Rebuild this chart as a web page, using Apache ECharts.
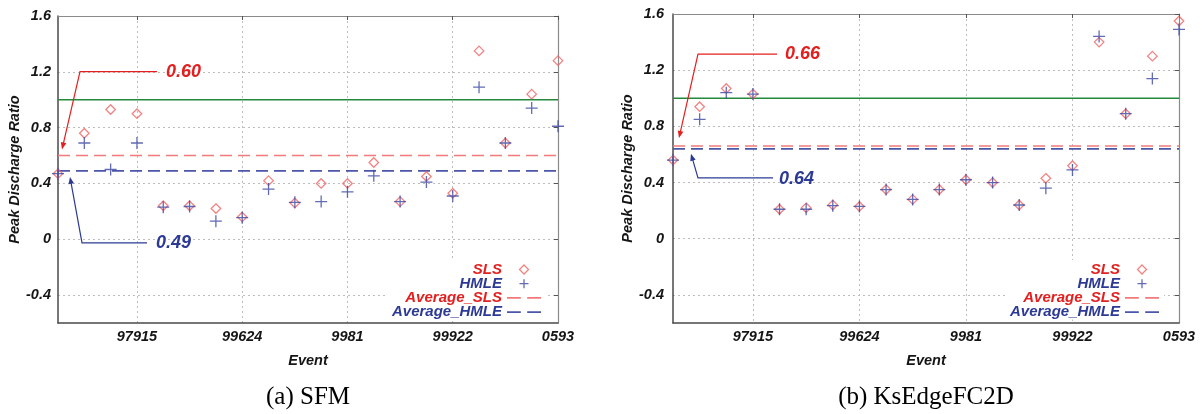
<!DOCTYPE html>
<html>
<head>
<meta charset="utf-8">
<script src="https://cdn.jsdelivr.net/npm/echarts@6/dist/echarts.min.js"></script>
<style>
  html, body { margin: 0; padding: 0; background: #fff; }
  #chart { width: 1202px; height: 414px; }
</style>
</head>
<body>
<div id="chart"></div>
<script>
// Event axis: 20 events, labelled every fourth one
const eventTicks = [3, 7, 11, 15, 19];
const eventLabels = ['97915', '99624', '9981', '99922', '0593'];
const ratioTicks = [-0.4, 0, 0.4, 0.8, 1.2, 1.6];

// (a) SFM – peak discharge ratios per event
const sfmSLS  = [0.47, 0.76, 0.93, 0.90, 0.24, 0.24, 0.22, 0.16, 0.42, 0.26, 0.40, 0.40, 0.55, 0.27, 0.45, 0.33, 1.35, 0.69, 1.04, 1.28];
const sfmHMLE = [0.47, 0.69, 0.50, 0.69, 0.23, 0.235, 0.13, 0.155, 0.36, 0.265, 0.27, 0.34, 0.455, 0.27, 0.41, 0.31, 1.09, 0.69, 0.94, 0.81];
const sfmAvgSLS = 0.60;
const sfmAvgHMLE = 0.49;

// (b) KsEdgeFC2D – peak discharge ratios per event
const ksSLS  = [0.56, 0.94, 1.07, 1.03, 0.21, 0.22, 0.24, 0.23, 0.35, 0.28, 0.35, 0.42, 0.40, 0.24, 0.43, 0.52, 1.40, 0.89, 1.30, 1.55];
const ksHMLE = [0.56, 0.85, 1.04, 1.03, 0.21, 0.21, 0.235, 0.23, 0.35, 0.28, 0.35, 0.42, 0.40, 0.24, 0.36, 0.49, 1.44, 0.89, 1.14, 1.49];
const ksAvgSLS = 0.66;
const ksAvgHMLE = 0.64;

// Perfect-match reference ratio
const refRatio = 1.0;

const RED_TEXT = '#e3201f';
const BLUE_TEXT = '#2c3a95';
const RED_MARK = '#f06464';
const BLUE_MARK = '#3b47a3';
const RED_AVG = '#f27a7a';
const BLUE_AVG = '#4b57a8';
const GREEN = '#24883a';
const FONT = '"Liberation Sans", Arial, sans-serif';

const DIAMOND = 'path://M5,0L10,5L5,10L0,5Z';
const PLUS = 'path://M5,0L5,10M0,5L10,5';
const DASHES = 'path://M0,0L13,0L13,1.6L0,1.6Z M19,0L32,0L32,1.6L19,1.6Z';

const panels = [
  {
    caption: '(a) SFM', sls: sfmSLS, hmle: sfmHMLE, avgSLS: sfmAvgSLS, avgHMLE: sfmAvgHMLE,
    grid: { left: 58, top: 16, width: 500, height: 307 },
    legend: { right: 656, top: 260 },
    nameGap: 34, labelMargin: 7,
    noteSLS:  { tip: [4, -6],  knee: [22, -84], end: [99, -84], text: [108, -84] },
    noteHMLE: { tip: [12, 6],  knee: [24, 72],  end: [89, 72],  text: [98, 72] }
  },
  {
    caption: '(b) KsEdgeFC2D', sls: ksSLS, hmle: ksHMLE, avgSLS: ksAvgSLS, avgHMLE: ksAvgHMLE,
    grid: { left: 673, top: 14, width: 506, height: 309 },
    legend: { right: 38, top: 260 },
    nameGap: 35, labelMargin: 9,
    noteSLS:  { tip: [6, -8],  knee: [25, -92], end: [104, -92], text: [112, -92] },
    noteHMLE: { tip: [18, 5],  knee: [25, 29],  end: [100, 29],  text: [106, 30] }
  }
];

const axisText = { color: '#151515', fontFamily: FONT, fontStyle: 'italic', fontWeight: 'bold', fontSize: 14.5 };
const gridLine = { show: true, lineStyle: { color: '#bdbdbd', type: [2, 3], width: 1 } };
const xMin = 0, xMax = sfmSLS.length - 1;

const grids = [], xAxes = [], yAxes = [], series = [], legends = [];

panels.forEach((p, k) => {
  grids.push(Object.assign({ containLabel: false }, p.grid));

  xAxes.push({
    type: 'value', gridIndex: k, min: xMin, max: xMax, position: 'bottom',
    name: 'Event', nameLocation: 'middle', nameGap: 30, nameTextStyle: axisText,
    axisLine: { onZero: false, lineStyle: { color: '#4a4a4a', width: 1.5 } },
    axisTick: { show: false, customValues: eventTicks },
    axisLabel: Object.assign({ customValues: eventTicks, margin: 6,
      formatter: v => eventLabels[eventTicks.indexOf(v)] || '' }, axisText),
    splitLine: gridLine
  });
  xAxes.push({
    type: 'value', gridIndex: k, min: xMin, max: xMax, position: 'top',
    axisLine: { onZero: false, lineStyle: { color: '#8a8a8a', width: 1.2 } },
    axisTick: { show: true, inside: true, length: 4, customValues: eventTicks, lineStyle: { color: '#555' } },
    axisLabel: { show: false }, splitLine: { show: false }
  });

  yAxes.push({
    type: 'value', gridIndex: k, min: -0.6, max: 1.6, position: 'left',
    name: 'Peak Discharge Ratio', nameLocation: 'middle', nameGap: p.nameGap, nameTextStyle: axisText,
    axisLine: { show: true, onZero: false, lineStyle: { color: '#4a4a4a', width: 1.5 } },
    axisTick: { show: false, customValues: ratioTicks },
    axisLabel: Object.assign({ customValues: ratioTicks, margin: p.labelMargin }, axisText),
    splitLine: gridLine
  });
  yAxes.push({
    type: 'value', gridIndex: k, min: -0.6, max: 1.6, position: 'right',
    axisLine: { show: true, onZero: false, lineStyle: { color: '#8a8a8a', width: 1.2 } },
    axisTick: { show: true, inside: true, length: 4, customValues: ratioTicks, lineStyle: { color: '#555' } },
    axisLabel: { show: false }, splitLine: { show: false }
  });

  const xi = 2 * k, yi = 2 * k;
  const flat = v => [[xMin, v], [xMax, v]];

  series.push({
    type: 'line', name: 'ref', xAxisIndex: xi, yAxisIndex: yi, data: flat(refRatio),
    symbol: 'none', silent: true, z: 3, lineStyle: { color: GREEN, width: 1.6 }
  });
  series.push({
    type: 'line', name: 'Average_SLS', xAxisIndex: xi, yAxisIndex: yi, data: flat(p.avgSLS),
    symbol: 'none', silent: true, z: 3, itemStyle: { color: RED_AVG },
    lineStyle: { color: RED_AVG, width: 1.6, type: [12, 6] }
  });
  series.push({
    type: 'line', name: 'Average_HMLE', xAxisIndex: xi, yAxisIndex: yi, data: flat(p.avgHMLE),
    symbol: 'none', silent: true, z: 3, itemStyle: { color: BLUE_AVG },
    lineStyle: { color: BLUE_AVG, width: 1.6, type: [12, 6] }
  });
  series.push({
    type: 'scatter', name: 'SLS', xAxisIndex: xi, yAxisIndex: yi, clip: false, z: 4,
    data: p.sls.map((v, i) => [i, v]), symbol: DIAMOND, symbolSize: 9.5,
    itemStyle: { color: 'rgba(255,255,255,0)', borderColor: RED_MARK, borderWidth: 1.3 }
  });
  series.push({
    type: 'scatter', name: 'HMLE', xAxisIndex: xi, yAxisIndex: yi, clip: false, z: 5,
    data: p.hmle.map((v, i) => [i, v]), symbol: PLUS, symbolSize: 12,
    itemStyle: { color: BLUE_MARK, borderColor: BLUE_MARK, borderWidth: 1.3 }
  });

  legends.push({
    orient: 'vertical', align: 'right', right: p.legend.right, top: p.legend.top,
    itemWidth: 34, itemHeight: 9, itemGap: -0.8, padding: [2, 5, 0, 4],
    backgroundColor: '#fff', selectedMode: false, z: 6,
    itemStyle: { borderWidth: 1.3 },
    textStyle: { fontFamily: FONT, fontStyle: 'italic', fontWeight: 'bold', fontSize: 15, lineHeight: 13 },
    data: [
      { name: 'SLS', icon: DIAMOND, textStyle: { color: RED_TEXT } },
      { name: 'HMLE', icon: PLUS, textStyle: { color: BLUE_TEXT } },
      { name: 'Average_SLS', icon: DASHES, textStyle: { color: RED_TEXT } },
      { name: 'Average_HMLE', icon: DASHES, textStyle: { color: BLUE_TEXT } }
    ]
  });
});

const chart = echarts.init(document.getElementById('chart'), null, { renderer: 'canvas' });
chart.setOption({
  backgroundColor: '#fff',
  animation: false,
  grid: grids, xAxis: xAxes, yAxis: yAxes, series: series, legend: legends
});

// Callout arrows pointing at each average line, plus the panel captions
function callout(k, value, note, color) {
  const x0 = chart.convertToPixel({ xAxisIndex: 2 * k }, xMin);
  const y0 = chart.convertToPixel({ yAxisIndex: 2 * k }, value);
  const at = o => [x0 + o[0], y0 + o[1]];
  const tip = at(note.tip), knee = at(note.knee), end = at(note.end), txt = at(note.text);
  const dx = tip[0] - knee[0], dy = tip[1] - knee[1];
  const len = Math.hypot(dx, dy), ux = dx / len, uy = dy / len;
  const headL = 7, headW = 2.8;
  const base = [tip[0] - ux * headL, tip[1] - uy * headL];
  return [
    { type: 'polyline', silent: true, z: 20,
      shape: { points: [end, knee, [tip[0] - ux * headL * 0.6, tip[1] - uy * headL * 0.6]] },
      style: { stroke: color, lineWidth: 1.2, fill: null } },
    { type: 'polygon', silent: true, z: 20,
      shape: { points: [tip, [base[0] - uy * headW, base[1] + ux * headW], [base[0] + uy * headW, base[1] - ux * headW]] },
      style: { fill: color } },
    { type: 'text', silent: true, z: 20, x: txt[0], y: txt[1],
      style: { text: value.toFixed(2), fill: color, align: 'left', verticalAlign: 'middle',
        font: 'italic bold 18px ' + FONT } }
  ];
}

const graphics = [];
panels.forEach((p, k) => {
  graphics.push(...callout(k, p.avgSLS, p.noteSLS, RED_TEXT));
  graphics.push(...callout(k, p.avgHMLE, p.noteHMLE, BLUE_TEXT));
  graphics.push({
    type: 'text', silent: true, x: p.grid.left + p.grid.width / 2, y: 397,
    style: { text: p.caption, fill: '#000', align: 'center', verticalAlign: 'middle',
      font: '25px "Liberation Serif", "Times New Roman", serif' }
  });
});
chart.setOption({ graphic: graphics });
</script>
</body>
</html>
